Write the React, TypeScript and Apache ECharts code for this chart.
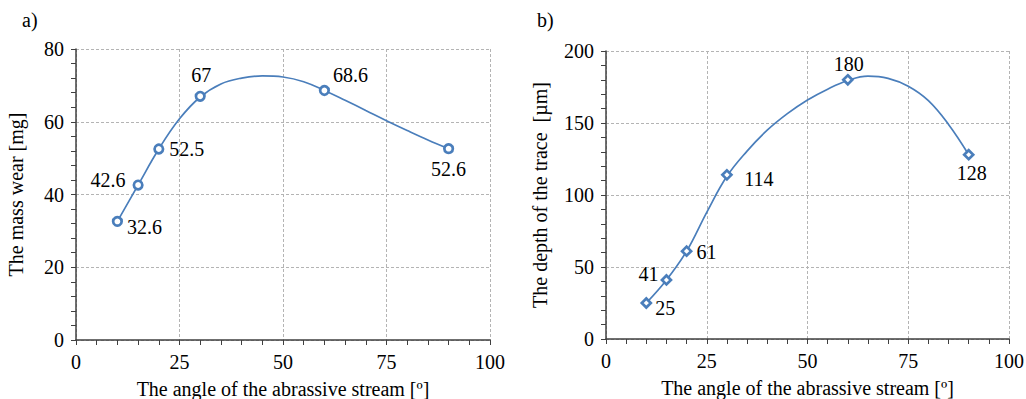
import React, { useEffect, useRef } from "react";
import * as echarts from "echarts";

// measured points
const anglesA = [10, 15, 20, 30, 60, 90];
const massWear = [32.6, 42.6, 52.5, 67, 68.6, 52.6];
const massLabels = ["32.6", "42.6", "52.5", "67", "68.6", "52.6"];

const anglesB = [10, 15, 20, 30, 60, 90];
const traceDepth = [25, 41, 61, 114, 180, 128];
const depthLabels = ["25", "41", "61", "114", "180", "128"];

// fitted curves, values
const curveXA = [10, 15, 20, 25, 30, 35, 40, 45, 50, 55, 60, 65, 70, 75, 80, 85, 90];
const curveYA = [32.6, 42.6, 52.5, 60.8, 66.8, 70.4, 72.0, 72.6, 72.3, 71.0, 68.6, 65.9, 63.1, 60.3, 57.6, 55.0, 52.6];
const curveXB = [10, 15, 20, 25, 30, 35, 40, 45, 50, 55, 60, 65, 70, 75, 80, 85, 90];
const curveYB = [25, 41, 61, 88, 113, 130.5, 145, 156.5, 166, 173.5, 179.5, 182.5, 181, 175.5, 165.5, 149, 128];

const xTicks = [0, 25, 50, 75, 100];
const yTicksA = [0, 20, 40, 60, 80];
const yTicksB = [0, 50, 100, 150, 200];

// label offsets in pixels (styling, not data)
const labelOffsetsA: [number, number][] = [
  [27, 6], [-30, -5], [28, 0], [1, -21], [26, -15], [0, 20],
];
const labelOffsetsB: [number, number][] = [
  [19, 5], [-18, -6], [20, 1], [32, 4], [1, -16], [3, 18],
];

const FONT = "Times New Roman, Liberation Serif, DejaVu Serif, serif";
const BLUE = "#4a7ebb";
const AXIS = "#404040";
const GRIDC = "#b4b4b4";
const FS = 20;

function xAxis(gridIndex: number) {
  return {
    type: "value",
    gridIndex,
    min: xTicks[0],
    max: xTicks[xTicks.length - 1],
    interval: xTicks[1] - xTicks[0],
    name: "The angle of the abrassive stream [º]",
    nameLocation: "middle",
    nameGap: 39,
    nameTextStyle: { fontFamily: FONT, fontSize: FS, color: "#000" },
    axisLine: { show: true, lineStyle: { color: AXIS, width: 1.5 } },
    axisTick: { show: true, length: 5, lineStyle: { color: AXIS } },
    minorTick: { show: true, splitNumber: 5, length: 5, lineStyle: { color: AXIS } },
    axisLabel: { fontFamily: FONT, fontSize: FS, color: "#000", margin: 12 },
    splitLine: { show: true, lineStyle: { color: GRIDC, type: [3, 2], width: 1 } },
  };
}

function yAxis(gridIndex: number, ticks: number[], name: string, gap: number) {
  return {
    type: "value",
    gridIndex,
    min: ticks[0],
    max: ticks[ticks.length - 1],
    interval: ticks[1] - ticks[0],
    name,
    nameLocation: "middle",
    nameGap: gap,
    nameTextStyle: { fontFamily: FONT, fontSize: FS, color: "#000" },
    axisLine: { show: true, lineStyle: { color: AXIS, width: 1.5 } },
    axisTick: { show: true, length: 5, lineStyle: { color: AXIS } },
    minorTick: { show: true, splitNumber: 5, length: 5, lineStyle: { color: AXIS } },
    axisLabel: { fontFamily: FONT, fontSize: FS, color: "#000", margin: 12 },
    splitLine: { show: true, lineStyle: { color: GRIDC, type: [3, 2], width: 1 } },
  };
}

function pointData(xs: number[], ys: number[], labels: string[], offs: [number, number][]) {
  return xs.map((x, i) => ({
    value: [x, ys[i]],
    label: {
      show: true,
      position: "inside",
      offset: offs[i],
      formatter: labels[i],
      fontFamily: FONT,
      fontSize: FS,
      color: "#000",
    },
  }));
}

export default function App() {
  const ref = useRef<HTMLDivElement>(null);
  useEffect(() => {
    document.body.style.margin = "0";
    if (!ref.current) return;
    const chart = echarts.init(ref.current, undefined, { renderer: "svg" });
    chart.setOption({
      animation: false,
      backgroundColor: "#fff",
      textStyle: { fontFamily: FONT },
      graphic: [
        { type: "text", left: 22, top: 10, style: { text: "a)", fontFamily: FONT, fontSize: FS, fill: "#000" } },
        { type: "text", left: 537, top: 10, style: { text: "b)", fontFamily: FONT, fontSize: FS, fill: "#000" } },
      ],
      grid: [
        { left: 76, top: 49, width: 414, height: 291, containLabel: false, outerBoundsMode: "none" },
        { left: 606, top: 51, width: 403, height: 288, containLabel: false, outerBoundsMode: "none" },
      ],
      xAxis: [xAxis(0), xAxis(1)],
      yAxis: [
        yAxis(0, yTicksA, "The mass wear [mg]", 50),
        yAxis(1, yTicksB, "The depth of the trace  [µm]", 56),
      ],
      series: [
        {
          type: "line",
          xAxisIndex: 0,
          yAxisIndex: 0,
          smooth: 0.4,
          showSymbol: false,
          silent: true,
          lineStyle: { color: BLUE, width: 1.7 },
          data: curveXA.map((x, i) => [x, curveYA[i]]),
          z: 2,
        },
        {
          type: "line",
          xAxisIndex: 1,
          yAxisIndex: 1,
          smooth: 0.4,
          showSymbol: false,
          silent: true,
          lineStyle: { color: BLUE, width: 1.7 },
          data: curveXB.map((x, i) => [x, curveYB[i]]),
          z: 2,
        },
        {
          type: "scatter",
          xAxisIndex: 0,
          yAxisIndex: 0,
          symbol: "circle",
          symbolSize: 8.5,
          itemStyle: { color: "#fff", borderColor: BLUE, borderWidth: 2.7, opacity: 1 },
          data: pointData(anglesA, massWear, massLabels, labelOffsetsA),
          z: 5,
        },
        {
          type: "scatter",
          xAxisIndex: 1,
          yAxisIndex: 1,
          symbol: "diamond",
          symbolSize: 9,
          itemStyle: { color: "#fff", borderColor: BLUE, borderWidth: 2.7, opacity: 1 },
          data: pointData(anglesB, traceDepth, depthLabels, labelOffsetsB),
          z: 5,
        },
      ],
    });
    return () => chart.dispose();
  }, []);
  return <div ref={ref} style={{ width: 1026, height: 399 }} />;
}
